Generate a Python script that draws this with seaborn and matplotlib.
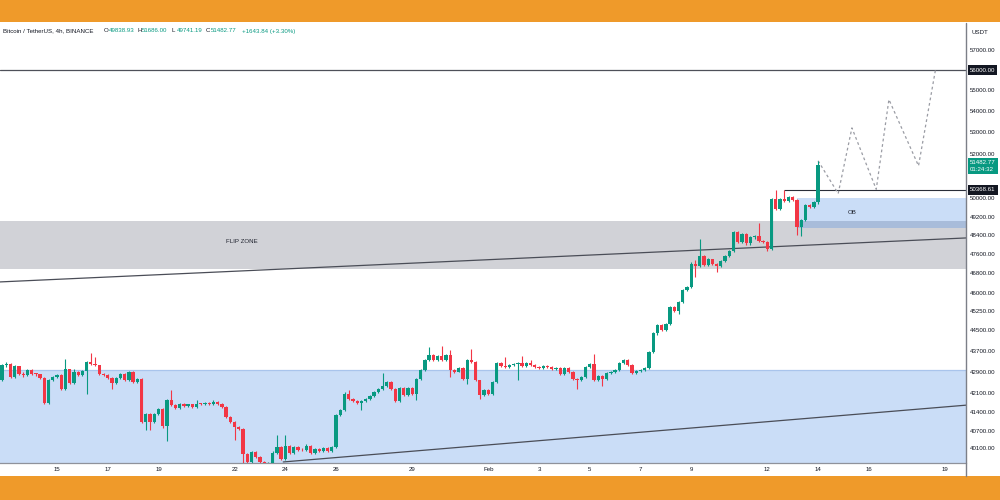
import numpy as np
import pandas as pd
import matplotlib
matplotlib.use("Agg")
import matplotlib.pyplot as plt
import matplotlib.dates as mdates
from matplotlib.patches import Rectangle
from matplotlib.lines import Line2D
import seaborn as sns

# ---------------- data ----------------
symbol_text = "Bitcoin / TetherUS, 4h, BINANCE"
header_labels = ["O", "H", "L", "C"]
header_values = ["49838.93", "51686.00", "49741.19", "51482.77"]
change_text = "+1643.84 (+3.30%)"
currency = "USDT"
countdown = "01:24:32"

start_time = "2024-01-12 20:00"
first_open = 42597
closes = [
    43140, 43203, 42695, 43102, 42825, 42760, 42975, 42825, 42798, 42672,
    41733, 42570, 42695, 42760, 42262, 42988, 42470, 42885, 42786, 42923,
    43265, 43178, 43140, 42825, 42760, 42672, 42470, 42672, 42825, 42597,
    42885, 42507, 42635, 41050, 41326, 41050, 41326, 41495, 40873, 41830,
    41650, 41553, 41686, 41614, 41675, 41590, 41711, 41686, 41733, 41675,
    41758, 41686, 41590, 41230, 41050, 40851, 40780, 39875, 39605, 39955,
    39795, 39605, 39245, 39560, 39935, 40145, 39725, 40190, 39935, 40145,
    40050, 40015, 40190, 39935, 40075, 39990, 40096, 40005, 40145, 41290,
    41470, 42078, 41893, 41794, 41733, 41806, 41880, 41978, 42126, 42250,
    42373, 42496, 42262, 41794, 42299, 42015, 42299, 42078, 42635, 42975,
    43330, 43523, 43330, 43510, 43357, 43547, 42975, 42900, 43039, 42635,
    43357, 43265, 42570, 42040, 42200, 42078, 42507, 43242, 43114, 43076,
    43140, 43203, 43242, 43114, 43216, 43165, 43076, 43026, 43127, 43064,
    43013, 43039, 42825, 43039, 42885, 42635, 42570, 42697, 43076, 43203,
    42597, 42748, 42635, 42848, 42900, 42950, 43242, 43330, 43152, 42848,
    42923, 42975, 43052, 43650, 44376, 44700, 44502, 44737, 45425, 45265,
    45627, 46100, 46235, 47200, 47090, 47508, 47130, 47370, 47170, 47117,
    47311, 47508, 47730, 48513, 48115, 48440, 48044, 48300, 48356, 48156,
    48115, 47830, 49964, 49524, 49964, 49876, 50052, 49920, 48742, 49045,
    49700, 49612, 49838.93, 51482.77,
]
highs = [
    43200, 43260, 43240, 43150, 43130, 42870, 43010, 43000, 42860, 42830,
    42700, 42610, 42740, 42800, 42800, 43394, 43020, 42990, 42920, 42960,
    43300, 43612, 43457, 43170, 42860, 42800, 42700, 42710, 42860, 42850,
    42920, 42920, 42680, 42670, 41370, 41360, 41360, 41540, 41530, 41870,
    42200, 41690, 41720, 41720, 41710, 41710, 41856, 41740, 41770, 41760,
    41856, 41790, 41720, 41620, 41260, 41080, 40890, 40810, 39920, 39990,
    39990, 39830, 39640, 39600, 39980, 40575, 40180, 40555, 40220, 40180,
    40180, 40090, 40230, 40220, 40110, 40110, 40130, 40130, 40180, 41330,
    41520, 42120, 42225, 41930, 41830, 41840, 41920, 42010, 42160, 42290,
    42848, 42540, 42530, 42300, 42340, 42330, 42330, 42330, 42670, 43010,
    43370, 43845, 43560, 43550, 43872, 43590, 43716, 43010, 43080, 43070,
    43400, 43782, 43300, 42600, 42240, 42240, 42540, 43280, 43280, 43459,
    43180, 43240, 43280, 43485, 43250, 43357, 43200, 43110, 43160, 43160,
    43100, 43080, 43070, 43080, 43070, 42920, 42670, 42730, 43110, 43240,
    43560, 42790, 42790, 42890, 42940, 42990, 43280, 43370, 43370, 43190,
    42960, 43010, 43090, 43690, 44420, 44750, 44740, 44780, 45470, 45470,
    45670, 46150, 46280, 47250, 47340, 48215, 47550, 47420, 47410, 47210,
    47350, 47550, 47780, 48560, 48560, 48490, 48490, 48350, 48400, 48900,
    48200, 48160, 50010, 50360, 50010, 50368.61, 50100, 50100, 49960, 49090,
    49750, 49750, 49880, 51686,
]
lows = [
    42540, 43090, 42650, 42660, 42780, 42700, 42730, 42790, 42750, 42620,
    41700, 41700, 42530, 42650, 42220, 42230, 42430, 42440, 42740, 42750,
    42078, 43140, 43100, 42790, 42720, 42630, 42262, 42440, 42640, 42560,
    42560, 42470, 42470, 40990, 40755, 40755, 41010, 41290, 40830, 40340,
    41610, 41510, 41520, 41580, 41580, 41560, 41560, 41650, 41650, 41640,
    41640, 41650, 41550, 41190, 41010, 40400, 40740, 39525, 39500, 39570,
    39750, 39500, 39000, 38560, 39500, 39900, 39680, 39690, 39900, 39900,
    40010, 39980, 39980, 39900, 39900, 39950, 39960, 39970, 39970, 40100,
    41240, 41430, 41850, 41750, 41690, 41470, 41770, 41850, 41950, 42100,
    42220, 42340, 42230, 41760, 41760, 41980, 41980, 42040, 41830, 42600,
    42940, 43300, 43300, 43300, 43320, 43320, 42697, 42860, 42870, 42600,
    42447, 43230, 42530, 41893, 42000, 42040, 42040, 42470, 43080, 43040,
    43040, 43100, 42570, 43080, 43080, 43130, 43040, 42990, 42990, 43030,
    42980, 42980, 42790, 42790, 42850, 42600, 42262, 42530, 42660, 43040,
    42560, 42560, 42348, 42600, 42810, 42860, 42910, 43200, 43110, 42810,
    42810, 42880, 42940, 43010, 43610, 44330, 44460, 44460, 44700, 45220,
    45150, 45580, 46050, 46190, 46645, 47040, 47080, 47080, 47120, 46853,
    47070, 47270, 47460, 47690, 48070, 48070, 48000, 48000, 48250, 48110,
    48070, 47730, 47760, 49480, 49480, 49830, 49830, 49870, 48398, 48356,
    49000, 49570, 49570, 49741.19,
]

price_ticks = [57000, 55000, 54000, 53000, 52000, 50000, 49200, 48400, 47600,
               46800, 46000, 45250, 44500, 43700, 42900, 42100, 41400, 40700, 40100]
date_ticks = ["2024-01-15", "2024-01-17", "2024-01-19", "2024-01-22", "2024-01-24",
              "2024-01-26", "2024-01-29", "2024-02-01", "2024-02-03", "2024-02-05",
              "2024-02-07", "2024-02-09", "2024-02-12", "2024-02-14", "2024-02-16",
              "2024-02-19"]
date_labels = ["15", "17", "19", "22", "24", "26", "29", "Feb", "3", "5", "7", "9",
               "12", "14", "16", "19"]

view_start, view_end = "2024-01-12 18:04", "2024-02-19 19:55"
price_low, price_high = 39593, 58375

resistance_level = 56000
swing_high_level = 50368.61
swing_high_time = "2024-02-12 16:00"
flip_zone = (46965, 49002)
flip_label = "FLIP ZONE"
demand_zone = (30000, 42970)
ob_start = "2024-02-13 04:00"
ob_zone = (48715, 50000)
ob_label = "OB"
flip_line_times = ["2024-01-12 18:00", "2024-02-19 20:00"]
flip_line_prices = [46440, 48280]
support_line_times = ["2024-01-23 22:00", "2024-02-19 20:00"]
support_line_prices = [39612, 41650]
proj_times = ["2024-02-14 00:00", "2024-02-14 19:00", "2024-02-15 08:00",
              "2024-02-16 07:00", "2024-02-16 19:00", "2024-02-17 23:00",
              "2024-02-18 15:00"]
proj_prices = [51686, 50210, 53210, 50400, 54560, 51455, 56000]

# ---------------- style ----------------
ORANGE = "#ef9a2a"
GREEN = "#089981"
RED = "#f23645"
TXT = "#131722"
ZONE_BLUE = (47 / 255, 123 / 255, 227 / 255, 0.25)

sns.set_theme(style="white")
plt.rcParams["font.family"] = ["Liberation Sans", "DejaVu Sans"]
FS = 4.4

def dn(s):
    return mdates.date2num(pd.Timestamp(s))

fig = plt.figure(figsize=(10, 5), dpi=100, facecolor=ORANGE)
fig.patches.append(Rectangle((0, 1 - 476 / 500), 1, (476 - 22) / 500,
                             transform=fig.transFigure, facecolor="white",
                             edgecolor="none", zorder=-5))
ax = fig.add_axes([0, (500 - 462.5) / 500, 0.966, (462.5 - 23) / 500])
ax.set_zorder(1)
ax.set_facecolor("white")
ax.set_yscale("log")

x0, x1 = dn(view_start), dn(view_end)

# zones
ax.axhspan(*demand_zone, facecolor=ZONE_BLUE, edgecolor="none", zorder=1)
ax.axhline(demand_zone[1], color="#a9c4ec", lw=0.9, zorder=1)
ax.axhspan(*flip_zone, facecolor="#d1d2d7", edgecolor="none", zorder=1)
ax.add_patch(Rectangle((dn(ob_start), ob_zone[0]), x1 - dn(ob_start), ob_zone[1] - ob_zone[0],
                       facecolor=ZONE_BLUE, edgecolor="none", zorder=1.5))

# candles
times = pd.date_range(start_time, periods=len(closes), freq="4h")
xs = mdates.date2num(times)
c = np.array(closes, dtype=float)
o = np.r_[first_open, c[:-1]]
h = np.array(highs, dtype=float)
l = np.array(lows, dtype=float)
up = c >= o
cols = np.where(up, GREEN, RED)
ax.vlines(xs, l, h, colors=cols, lw=0.8, zorder=3)
bottom = np.minimum(o, c)
height = np.maximum(np.abs(c - o), bottom * 0.0008)
ax.bar(xs, height, bottom=bottom, width=0.13, color=cols, linewidth=0, zorder=4)

# lines
ax.axhline(resistance_level, color="#4e5059", lw=0.9, zorder=2)
ax.hlines(swing_high_level, dn(swing_high_time), x1, color="#2a2e39", lw=0.8, zorder=2)
sns.lineplot(x=[dn(t) for t in flip_line_times], y=flip_line_prices, ax=ax,
             color="#4a4d57", lw=0.9, zorder=2.5)
sns.lineplot(x=[dn(t) for t in support_line_times], y=support_line_prices, ax=ax,
             color="#4a4d57", lw=0.9, zorder=2.5)
sns.lineplot(x=[dn(t) for t in proj_times], y=proj_prices, ax=ax, color="#9a9ca4",
             lw=0.9, linestyle=(0, (2.2, 2.2)), zorder=2.5, sort=False)

# zone labels
ax.text(0.2505, 48140, flip_label, transform=ax.get_yaxis_transform(), ha="center",
        va="center", fontsize=FS, color="#1e222d", zorder=6)
ax.text(0.882, 49390, ob_label, transform=ax.get_yaxis_transform(), ha="center",
        va="center", fontsize=FS, color="#1e222d", zorder=6)

# axes
ax.set_xlim(x0, x1)
ax.set_ylim(price_low, price_high)
ax.yaxis.tick_right()
ax.yaxis.set_minor_locator(matplotlib.ticker.NullLocator())
ax.set_yticks(price_ticks)
ax.set_yticklabels([f"{v:.2f}" for v in price_ticks], fontsize=FS, color=TXT)
ax.tick_params(axis="y", length=0, pad=2.9)
ax.set_xticks([dn(d) for d in date_ticks])
ax.set_xticklabels(date_labels, fontsize=FS, color=TXT)
ax.tick_params(axis="x", length=0, pad=3.2)
ax.grid(False)
for s in ["top", "left", "right"]:
    ax.spines[s].set_visible(False)
ax.spines["bottom"].set_color("#8f929b")
ax.spines["bottom"].set_linewidth(0.9)
fig.lines.append(Line2D([0.966, 0.966], [1 - 476 / 500, 1 - 23 / 500],
                        transform=fig.transFigure, color="#7c7f88", lw=1.0, zorder=5))

# price tags on axis
ytr = ax.get_yaxis_transform()
for lvl, txt in [(resistance_level, f"{resistance_level:.2f}"),
                 (swing_high_level, f"{swing_high_level:.2f}")]:
    ax.text(1.004, lvl, txt, transform=ytr, ha="left", va="center", fontsize=FS,
            color="white", clip_on=False, zorder=10,
            bbox=dict(boxstyle="square,pad=0.35", fc="#131722", ec="none"))
ax.annotate(f"{closes[-1]:.2f}\n{countdown}", xy=(1.004, closes[-1]), xycoords=ytr,
            xytext=(0, 3.6), textcoords="offset points", ha="left", va="top",
            fontsize=FS, color="white", linespacing=1.35, annotation_clip=False,
            zorder=10, bbox=dict(boxstyle="square,pad=0.35", fc=GREEN, ec="none"))

# header
def px(x, y):
    return x / 1000, 1 - y / 500

fig.text(*px(3, 31), symbol_text, fontsize=FS, color=TXT, va="center", ha="left", zorder=6)
hx = [104, 137, 172, 206]
for x, lab, val in zip(hx, header_labels, header_values):
    fig.text(*px(x, 31), lab, fontsize=FS, color=TXT, va="center", ha="left", zorder=6)
    fig.text(*px(x + 5, 31), val, fontsize=FS, color=GREEN, va="center", ha="left", zorder=6)
fig.text(*px(242, 31), change_text, fontsize=FS, color=GREEN, va="center", ha="left", zorder=6)
fig.text(*px(972, 32), currency, fontsize=FS, color=TXT, va="center", ha="left", zorder=6)

fig.savefig("out.png", dpi=100, facecolor=ORANGE)
